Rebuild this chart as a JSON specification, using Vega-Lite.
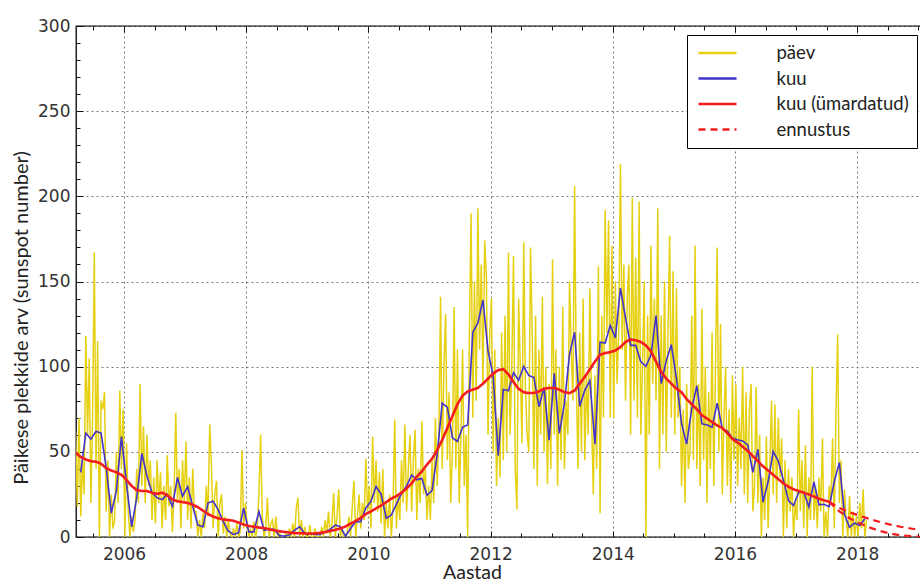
{
  "$schema": "https://vega.github.io/schema/vega-lite/v6.json",
  "width": 846,
  "height": 511,
  "autosize": {"type": "none"},
  "padding": {"left": 76, "top": 26, "right": 0, "bottom": 46},
  "background": "white",
  "config": {
    "view": {"stroke": "black", "strokeWidth": 1.3},
    "axis": {
      "labelFont": "DejaVu Sans",
      "labelFontSize": 17,
      "labelColor": "#333",
      "tickColor": "#111",
      "tickWidth": 1,
      "domain": false,
      "gridColor": "#7a7a7a",
      "gridDash": [2, 3],
      "gridWidth": 1,
      "titleFont": "Lato",
      "titleFontSize": 19,
      "titleFontWeight": "normal",
      "titleColor": "#222"
    },
    "legend": {
      "symbolType": "M-2,0H2",
      "symbolSize": 361,
      "symbolOffset": 11.5,
      "symbolStrokeWidth": 2.5,
      "labelFont": "Lato",
      "labelFontSize": 18.5,
      "labelColor": "#222",
      "labelOffset": 48,
      "clipHeight": 20,
      "rowPadding": 5.5,
      "padding": 8,
      "strokeColor": "black",
      "fillColor": "white"
    }
  },
  "resolve": {"axis": {"x": "independent", "y": "independent"}},
  "layer": [
    {
      "data": {"values": [
        {"year":2005.181,"ssn":30},{"year":2005.208,"ssn":62},{"year":2005.236,"ssn":18},
        {"year":2005.264,"ssn":70},{"year":2005.292,"ssn":12},{"year":2005.319,"ssn":45},
        {"year":2005.347,"ssn":25},{"year":2005.375,"ssn":118},{"year":2005.403,"ssn":60},
        {"year":2005.431,"ssn":105},{"year":2005.458,"ssn":20},{"year":2005.486,"ssn":70},
        {"year":2005.514,"ssn":167},{"year":2005.542,"ssn":40},{"year":2005.569,"ssn":115},
        {"year":2005.597,"ssn":0},{"year":2005.625,"ssn":80},{"year":2005.653,"ssn":75},
        {"year":2005.681,"ssn":85},{"year":2005.708,"ssn":15},{"year":2005.736,"ssn":45},
        {"year":2005.764,"ssn":0},{"year":2005.792,"ssn":25},{"year":2005.819,"ssn":5},
        {"year":2005.847,"ssn":10},{"year":2005.875,"ssn":50},{"year":2005.903,"ssn":20},
        {"year":2005.931,"ssn":86},{"year":2005.958,"ssn":40},{"year":2005.986,"ssn":75},
        {"year":2006.014,"ssn":0},{"year":2006.042,"ssn":55},{"year":2006.069,"ssn":15},
        {"year":2006.097,"ssn":0},{"year":2006.125,"ssn":12},{"year":2006.153,"ssn":3},
        {"year":2006.181,"ssn":10},{"year":2006.208,"ssn":40},{"year":2006.236,"ssn":20},
        {"year":2006.264,"ssn":90},{"year":2006.292,"ssn":30},{"year":2006.319,"ssn":65},
        {"year":2006.347,"ssn":20},{"year":2006.375,"ssn":60},{"year":2006.403,"ssn":30},
        {"year":2006.431,"ssn":45},{"year":2006.458,"ssn":10},{"year":2006.486,"ssn":35},
        {"year":2006.514,"ssn":8},{"year":2006.542,"ssn":45},{"year":2006.569,"ssn":20},
        {"year":2006.597,"ssn":38},{"year":2006.625,"ssn":5},{"year":2006.653,"ssn":30},
        {"year":2006.681,"ssn":10},{"year":2006.708,"ssn":48},{"year":2006.736,"ssn":18},
        {"year":2006.764,"ssn":30},{"year":2006.792,"ssn":3},{"year":2006.819,"ssn":25},
        {"year":2006.847,"ssn":73},{"year":2006.875,"ssn":20},{"year":2006.903,"ssn":40},
        {"year":2006.931,"ssn":5},{"year":2006.958,"ssn":45},{"year":2006.986,"ssn":20},
        {"year":2007.014,"ssn":56},{"year":2007.042,"ssn":10},{"year":2007.069,"ssn":35},
        {"year":2007.097,"ssn":5},{"year":2007.125,"ssn":40},{"year":2007.153,"ssn":15},
        {"year":2007.181,"ssn":15},{"year":2007.208,"ssn":0},{"year":2007.236,"ssn":10},
        {"year":2007.264,"ssn":0},{"year":2007.292,"ssn":14},{"year":2007.319,"ssn":5},
        {"year":2007.347,"ssn":30},{"year":2007.375,"ssn":12},{"year":2007.403,"ssn":66},
        {"year":2007.431,"ssn":42},{"year":2007.458,"ssn":5},{"year":2007.486,"ssn":25},
        {"year":2007.514,"ssn":33},{"year":2007.542,"ssn":0},{"year":2007.569,"ssn":20},
        {"year":2007.597,"ssn":25},{"year":2007.625,"ssn":2},{"year":2007.653,"ssn":12},
        {"year":2007.681,"ssn":0},{"year":2007.708,"ssn":10},{"year":2007.736,"ssn":2},
        {"year":2007.764,"ssn":0},{"year":2007.792,"ssn":5},{"year":2007.819,"ssn":0},
        {"year":2007.847,"ssn":8},{"year":2007.875,"ssn":0},{"year":2007.903,"ssn":3},
        {"year":2007.931,"ssn":51},{"year":2007.958,"ssn":5},{"year":2007.986,"ssn":20},
        {"year":2008.014,"ssn":8},{"year":2008.042,"ssn":0},{"year":2008.069,"ssn":5},
        {"year":2008.097,"ssn":0},{"year":2008.125,"ssn":9},{"year":2008.153,"ssn":0},
        {"year":2008.181,"ssn":5},{"year":2008.208,"ssn":25},{"year":2008.236,"ssn":60},
        {"year":2008.264,"ssn":12},{"year":2008.292,"ssn":0},{"year":2008.319,"ssn":5},
        {"year":2008.347,"ssn":23},{"year":2008.375,"ssn":0},{"year":2008.403,"ssn":8},
        {"year":2008.431,"ssn":10},{"year":2008.458,"ssn":0},{"year":2008.486,"ssn":12},
        {"year":2008.514,"ssn":0},{"year":2008.542,"ssn":3},{"year":2008.569,"ssn":0},
        {"year":2008.597,"ssn":0},{"year":2008.625,"ssn":0},{"year":2008.653,"ssn":2},
        {"year":2008.681,"ssn":0},{"year":2008.708,"ssn":5},{"year":2008.736,"ssn":0},
        {"year":2008.764,"ssn":8},{"year":2008.792,"ssn":0},{"year":2008.819,"ssn":17},
        {"year":2008.847,"ssn":23},{"year":2008.875,"ssn":0},{"year":2008.903,"ssn":10},
        {"year":2008.931,"ssn":0},{"year":2008.958,"ssn":6},{"year":2008.986,"ssn":0},
        {"year":2009.014,"ssn":0},{"year":2009.042,"ssn":7},{"year":2009.069,"ssn":0},
        {"year":2009.097,"ssn":0},{"year":2009.125,"ssn":5},{"year":2009.153,"ssn":0},
        {"year":2009.181,"ssn":0},{"year":2009.208,"ssn":0},{"year":2009.236,"ssn":6},
        {"year":2009.264,"ssn":0},{"year":2009.292,"ssn":10},{"year":2009.319,"ssn":2},
        {"year":2009.347,"ssn":15},{"year":2009.375,"ssn":0},{"year":2009.403,"ssn":8},
        {"year":2009.431,"ssn":26},{"year":2009.458,"ssn":0},{"year":2009.486,"ssn":12},
        {"year":2009.514,"ssn":28},{"year":2009.542,"ssn":0},{"year":2009.569,"ssn":5},
        {"year":2009.597,"ssn":0},{"year":2009.625,"ssn":0},{"year":2009.653,"ssn":3},
        {"year":2009.681,"ssn":12},{"year":2009.708,"ssn":0},{"year":2009.736,"ssn":18},
        {"year":2009.764,"ssn":33},{"year":2009.792,"ssn":0},{"year":2009.819,"ssn":12},
        {"year":2009.847,"ssn":25},{"year":2009.875,"ssn":5},{"year":2009.903,"ssn":20},
        {"year":2009.931,"ssn":10},{"year":2009.958,"ssn":46},{"year":2009.986,"ssn":15},
        {"year":2010.014,"ssn":30},{"year":2010.042,"ssn":5},{"year":2010.069,"ssn":59},
        {"year":2010.097,"ssn":20},{"year":2010.125,"ssn":45},{"year":2010.153,"ssn":15},
        {"year":2010.181,"ssn":38},{"year":2010.208,"ssn":8},{"year":2010.236,"ssn":40},
        {"year":2010.264,"ssn":0},{"year":2010.292,"ssn":20},{"year":2010.319,"ssn":5},
        {"year":2010.347,"ssn":25},{"year":2010.375,"ssn":0},{"year":2010.403,"ssn":18},
        {"year":2010.431,"ssn":69},{"year":2010.458,"ssn":5},{"year":2010.486,"ssn":25},
        {"year":2010.514,"ssn":10},{"year":2010.542,"ssn":45},{"year":2010.569,"ssn":20},
        {"year":2010.597,"ssn":66},{"year":2010.625,"ssn":15},{"year":2010.653,"ssn":40},
        {"year":2010.681,"ssn":60},{"year":2010.708,"ssn":15},{"year":2010.736,"ssn":45},
        {"year":2010.764,"ssn":63},{"year":2010.792,"ssn":10},{"year":2010.819,"ssn":40},
        {"year":2010.847,"ssn":20},{"year":2010.875,"ssn":68},{"year":2010.903,"ssn":25},
        {"year":2010.931,"ssn":40},{"year":2010.958,"ssn":10},{"year":2010.986,"ssn":30},
        {"year":2011.014,"ssn":10},{"year":2011.042,"ssn":45},{"year":2011.069,"ssn":20},
        {"year":2011.097,"ssn":70},{"year":2011.125,"ssn":30},{"year":2011.153,"ssn":60},
        {"year":2011.181,"ssn":141},{"year":2011.208,"ssn":40},{"year":2011.236,"ssn":100},
        {"year":2011.264,"ssn":131},{"year":2011.292,"ssn":45},{"year":2011.319,"ssn":85},
        {"year":2011.347,"ssn":20},{"year":2011.375,"ssn":50},{"year":2011.403,"ssn":135},
        {"year":2011.431,"ssn":40},{"year":2011.458,"ssn":110},{"year":2011.486,"ssn":20},
        {"year":2011.514,"ssn":60},{"year":2011.542,"ssn":110},{"year":2011.569,"ssn":30},
        {"year":2011.597,"ssn":60},{"year":2011.625,"ssn":0},{"year":2011.653,"ssn":120},
        {"year":2011.681,"ssn":190},{"year":2011.708,"ssn":70},{"year":2011.736,"ssn":150},
        {"year":2011.764,"ssn":80},{"year":2011.792,"ssn":193},{"year":2011.819,"ssn":110},
        {"year":2011.847,"ssn":160},{"year":2011.875,"ssn":90},{"year":2011.903,"ssn":174},
        {"year":2011.931,"ssn":153},{"year":2011.958,"ssn":60},{"year":2011.986,"ssn":120},
        {"year":2012.014,"ssn":140},{"year":2012.042,"ssn":50},{"year":2012.069,"ssn":110},
        {"year":2012.097,"ssn":30},{"year":2012.125,"ssn":70},{"year":2012.153,"ssn":35},
        {"year":2012.181,"ssn":120},{"year":2012.208,"ssn":45},{"year":2012.236,"ssn":130},
        {"year":2012.264,"ssn":50},{"year":2012.292,"ssn":167},{"year":2012.319,"ssn":60},
        {"year":2012.347,"ssn":100},{"year":2012.375,"ssn":165},{"year":2012.403,"ssn":40},
        {"year":2012.431,"ssn":16},{"year":2012.458,"ssn":140},{"year":2012.486,"ssn":100},
        {"year":2012.514,"ssn":55},{"year":2012.542,"ssn":173},{"year":2012.569,"ssn":90},
        {"year":2012.597,"ssn":60},{"year":2012.625,"ssn":50},{"year":2012.653,"ssn":170},
        {"year":2012.681,"ssn":120},{"year":2012.708,"ssn":40},{"year":2012.736,"ssn":130},
        {"year":2012.764,"ssn":30},{"year":2012.792,"ssn":110},{"year":2012.819,"ssn":60},
        {"year":2012.847,"ssn":141},{"year":2012.875,"ssn":50},{"year":2012.903,"ssn":100},
        {"year":2012.931,"ssn":31},{"year":2012.958,"ssn":90},{"year":2012.986,"ssn":40},
        {"year":2013.014,"ssn":163},{"year":2013.042,"ssn":60},{"year":2013.069,"ssn":110},
        {"year":2013.097,"ssn":30},{"year":2013.125,"ssn":100},{"year":2013.153,"ssn":45},
        {"year":2013.181,"ssn":135},{"year":2013.208,"ssn":40},{"year":2013.236,"ssn":80},
        {"year":2013.264,"ssn":60},{"year":2013.292,"ssn":150},{"year":2013.319,"ssn":110},
        {"year":2013.347,"ssn":80},{"year":2013.375,"ssn":206},{"year":2013.403,"ssn":90},
        {"year":2013.431,"ssn":40},{"year":2013.458,"ssn":120},{"year":2013.486,"ssn":50},
        {"year":2013.514,"ssn":140},{"year":2013.542,"ssn":45},{"year":2013.569,"ssn":95},
        {"year":2013.597,"ssn":60},{"year":2013.625,"ssn":146},{"year":2013.653,"ssn":70},
        {"year":2013.681,"ssn":25},{"year":2013.708,"ssn":95},{"year":2013.736,"ssn":40},
        {"year":2013.764,"ssn":159},{"year":2013.792,"ssn":14},{"year":2013.819,"ssn":130},
        {"year":2013.847,"ssn":70},{"year":2013.875,"ssn":192},{"year":2013.903,"ssn":120},
        {"year":2013.931,"ssn":186},{"year":2013.958,"ssn":70},{"year":2013.986,"ssn":171},
        {"year":2014.014,"ssn":70},{"year":2014.042,"ssn":150},{"year":2014.069,"ssn":90},
        {"year":2014.097,"ssn":120},{"year":2014.125,"ssn":219},{"year":2014.153,"ssn":110},
        {"year":2014.181,"ssn":160},{"year":2014.208,"ssn":80},{"year":2014.236,"ssn":140},
        {"year":2014.264,"ssn":160},{"year":2014.292,"ssn":60},{"year":2014.319,"ssn":199},
        {"year":2014.347,"ssn":80},{"year":2014.375,"ssn":164},{"year":2014.403,"ssn":70},
        {"year":2014.431,"ssn":197},{"year":2014.458,"ssn":60},{"year":2014.486,"ssn":100},
        {"year":2014.514,"ssn":150},{"year":2014.542,"ssn":0},{"year":2014.569,"ssn":130},
        {"year":2014.597,"ssn":60},{"year":2014.625,"ssn":171},{"year":2014.653,"ssn":90},
        {"year":2014.681,"ssn":140},{"year":2014.708,"ssn":80},{"year":2014.736,"ssn":193},
        {"year":2014.764,"ssn":40},{"year":2014.792,"ssn":130},{"year":2014.819,"ssn":60},
        {"year":2014.847,"ssn":150},{"year":2014.875,"ssn":50},{"year":2014.903,"ssn":120},
        {"year":2014.931,"ssn":177},{"year":2014.958,"ssn":70},{"year":2014.986,"ssn":156},
        {"year":2015.014,"ssn":60},{"year":2015.042,"ssn":146},{"year":2015.069,"ssn":70},
        {"year":2015.097,"ssn":100},{"year":2015.125,"ssn":30},{"year":2015.153,"ssn":75},
        {"year":2015.181,"ssn":20},{"year":2015.208,"ssn":90},{"year":2015.236,"ssn":40},
        {"year":2015.264,"ssn":50},{"year":2015.292,"ssn":130},{"year":2015.319,"ssn":45},
        {"year":2015.347,"ssn":171},{"year":2015.375,"ssn":40},{"year":2015.403,"ssn":90},
        {"year":2015.431,"ssn":30},{"year":2015.458,"ssn":134},{"year":2015.486,"ssn":45},
        {"year":2015.514,"ssn":100},{"year":2015.542,"ssn":20},{"year":2015.569,"ssn":85},
        {"year":2015.597,"ssn":40},{"year":2015.625,"ssn":120},{"year":2015.653,"ssn":30},
        {"year":2015.681,"ssn":100},{"year":2015.708,"ssn":170},{"year":2015.736,"ssn":50},
        {"year":2015.764,"ssn":125},{"year":2015.792,"ssn":25},{"year":2015.819,"ssn":70},
        {"year":2015.847,"ssn":100},{"year":2015.875,"ssn":30},{"year":2015.903,"ssn":75},
        {"year":2015.931,"ssn":20},{"year":2015.958,"ssn":95},{"year":2015.986,"ssn":45},
        {"year":2016.014,"ssn":90},{"year":2016.042,"ssn":30},{"year":2016.069,"ssn":70},
        {"year":2016.097,"ssn":40},{"year":2016.125,"ssn":100},{"year":2016.153,"ssn":25},
        {"year":2016.181,"ssn":85},{"year":2016.208,"ssn":20},{"year":2016.236,"ssn":75},
        {"year":2016.264,"ssn":90},{"year":2016.292,"ssn":15},{"year":2016.319,"ssn":30},
        {"year":2016.347,"ssn":88},{"year":2016.375,"ssn":20},{"year":2016.403,"ssn":60},
        {"year":2016.431,"ssn":0},{"year":2016.458,"ssn":35},{"year":2016.486,"ssn":10},
        {"year":2016.514,"ssn":59},{"year":2016.542,"ssn":5},{"year":2016.569,"ssn":40},
        {"year":2016.597,"ssn":80},{"year":2016.625,"ssn":25},{"year":2016.653,"ssn":78},
        {"year":2016.681,"ssn":20},{"year":2016.708,"ssn":70},{"year":2016.736,"ssn":35},
        {"year":2016.764,"ssn":58},{"year":2016.792,"ssn":0},{"year":2016.819,"ssn":45},
        {"year":2016.847,"ssn":5},{"year":2016.875,"ssn":40},{"year":2016.903,"ssn":15},
        {"year":2016.931,"ssn":35},{"year":2016.958,"ssn":0},{"year":2016.986,"ssn":20},
        {"year":2017.014,"ssn":10},{"year":2017.042,"ssn":75},{"year":2017.069,"ssn":15},
        {"year":2017.097,"ssn":45},{"year":2017.125,"ssn":5},{"year":2017.153,"ssn":54},
        {"year":2017.181,"ssn":0},{"year":2017.208,"ssn":35},{"year":2017.236,"ssn":10},
        {"year":2017.264,"ssn":100},{"year":2017.292,"ssn":10},{"year":2017.319,"ssn":30},
        {"year":2017.347,"ssn":5},{"year":2017.375,"ssn":35},{"year":2017.403,"ssn":15},
        {"year":2017.431,"ssn":58},{"year":2017.458,"ssn":0},{"year":2017.486,"ssn":15},
        {"year":2017.514,"ssn":0},{"year":2017.542,"ssn":30},{"year":2017.569,"ssn":20},
        {"year":2017.597,"ssn":58},{"year":2017.625,"ssn":5},{"year":2017.653,"ssn":75},
        {"year":2017.681,"ssn":119},{"year":2017.708,"ssn":20},{"year":2017.736,"ssn":45},
        {"year":2017.764,"ssn":0},{"year":2017.792,"ssn":28},{"year":2017.819,"ssn":10},
        {"year":2017.847,"ssn":0},{"year":2017.875,"ssn":24},{"year":2017.903,"ssn":0},
        {"year":2017.931,"ssn":15},{"year":2017.958,"ssn":0},{"year":2017.986,"ssn":12},
        {"year":2018.014,"ssn":0},{"year":2018.042,"ssn":20},{"year":2018.069,"ssn":5},
        {"year":2018.097,"ssn":28},{"year":2018.125,"ssn":0},{"year":2018.153,"ssn":10}
      ]},
      "mark": {"type": "line", "strokeWidth": 1.5, "clip": true},
      "encoding": {
        "x": {
          "field": "year", "type": "quantitative",
          "scale": {"domain": [2005.2144, 2019.0606], "nice": false, "zero": false},
          "axis": {
            "orient": "bottom", "values": [2006, 2008, 2010, 2012, 2014, 2016, 2018],
            "format": "d", "grid": true, "tickSize": -6, "labelPadding": 15,
            "title": "Aastad", "titleFontSize": 19.5, "titleX": 396, "titleY": 41,
            "titleAlign": "center", "titleBaseline": "alphabetic"
          }
        },
        "y": {
          "field": "ssn", "type": "quantitative",
          "scale": {"domain": [0, 300], "nice": false, "zero": true},
          "axis": {
            "orient": "left", "values": [0, 50, 100, 150, 200, 250, 300],
            "grid": true, "tickSize": -7, "labelPadding": 13,
            "title": "Päikese plekkide arv (sunspot number)", "titleFontSize": 20,
            "titleX": -49, "titleY": 291.5, "titleAngle": -90, "titleAlign": "center",
            "titleBaseline": "alphabetic"
          }
        },
        "color": {
          "datum": "päev", "type": "nominal",
          "scale": {
            "domain": ["päev", "kuu", "kuu (ümardatud)", "ennustus"],
            "range": ["#e6d012", "#4233cc", "#f41c1c", "#f41c1c"]
          },
          "legend": {"orient": "none", "legendX": 611, "legendY": 9, "title": null}
        },
        "strokeDash": {
          "datum": "päev", "type": "nominal",
          "scale": {
            "domain": ["päev", "kuu", "kuu (ümardatud)", "ennustus"],
            "range": [[1, 0], [1, 0], [1, 0], [7, 5]]
          },
          "legend": {"orient": "none", "legendX": 611, "legendY": 9, "title": null}
        }
      }
    },
    {
      "data": {"values": [
        {"year":2005.292,"ssn":38},{"year":2005.375,"ssn":61},{"year":2005.458,"ssn":57.5},
        {"year":2005.542,"ssn":62},{"year":2005.625,"ssn":61},{"year":2005.708,"ssn":41},
        {"year":2005.792,"ssn":14},{"year":2005.875,"ssn":27},{"year":2005.958,"ssn":59},
        {"year":2006.042,"ssn":31},{"year":2006.125,"ssn":6},{"year":2006.208,"ssn":23},
        {"year":2006.292,"ssn":49},{"year":2006.375,"ssn":36},{"year":2006.458,"ssn":26},
        {"year":2006.542,"ssn":23},{"year":2006.625,"ssn":22},{"year":2006.708,"ssn":25},
        {"year":2006.792,"ssn":18},{"year":2006.875,"ssn":35},{"year":2006.958,"ssn":24},
        {"year":2007.042,"ssn":29.5},{"year":2007.125,"ssn":18},{"year":2007.208,"ssn":7},
        {"year":2007.292,"ssn":6},{"year":2007.375,"ssn":20},{"year":2007.458,"ssn":21},
        {"year":2007.542,"ssn":16},{"year":2007.625,"ssn":9},{"year":2007.708,"ssn":3.5},
        {"year":2007.792,"ssn":1.5},{"year":2007.875,"ssn":2.5},{"year":2007.958,"ssn":17},
        {"year":2008.042,"ssn":3},{"year":2008.125,"ssn":3},{"year":2008.208,"ssn":15},
        {"year":2008.292,"ssn":4},{"year":2008.375,"ssn":4.5},{"year":2008.458,"ssn":4.5},
        {"year":2008.542,"ssn":0.8},{"year":2008.625,"ssn":0.5},{"year":2008.708,"ssn":1.2},
        {"year":2008.792,"ssn":4},{"year":2008.875,"ssn":6},{"year":2008.958,"ssn":2},
        {"year":2009.042,"ssn":2},{"year":2009.125,"ssn":1.5},{"year":2009.208,"ssn":1.5},
        {"year":2009.292,"ssn":3},{"year":2009.375,"ssn":4.5},{"year":2009.458,"ssn":7},
        {"year":2009.542,"ssn":6},{"year":2009.625,"ssn":0.5},{"year":2009.708,"ssn":5},
        {"year":2009.792,"ssn":9},{"year":2009.875,"ssn":9},{"year":2009.958,"ssn":17},
        {"year":2010.042,"ssn":21},{"year":2010.125,"ssn":29.6},{"year":2010.208,"ssn":25.2},
        {"year":2010.292,"ssn":11},{"year":2010.375,"ssn":12.9},{"year":2010.458,"ssn":19.3},
        {"year":2010.542,"ssn":25.6},{"year":2010.625,"ssn":29.9},{"year":2010.708,"ssn":36.4},
        {"year":2010.792,"ssn":33.6},{"year":2010.875,"ssn":34.4},{"year":2010.958,"ssn":24.5},
        {"year":2011.042,"ssn":27.3},{"year":2011.125,"ssn":48.3},{"year":2011.208,"ssn":78.6},
        {"year":2011.292,"ssn":76.1},{"year":2011.375,"ssn":58.2},{"year":2011.458,"ssn":56.1},
        {"year":2011.542,"ssn":64.5},{"year":2011.625,"ssn":65.8},{"year":2011.708,"ssn":120.1},
        {"year":2011.792,"ssn":125.7},{"year":2011.875,"ssn":139.1},{"year":2011.958,"ssn":109.3},
        {"year":2012.042,"ssn":94.4},{"year":2012.125,"ssn":47.8},{"year":2012.208,"ssn":86.6},
        {"year":2012.292,"ssn":85.9},{"year":2012.375,"ssn":96.5},{"year":2012.458,"ssn":92.0},
        {"year":2012.542,"ssn":100.1},{"year":2012.625,"ssn":94.8},{"year":2012.708,"ssn":93.7},
        {"year":2012.792,"ssn":76.5},{"year":2012.875,"ssn":87.6},{"year":2012.958,"ssn":56.8},
        {"year":2013.042,"ssn":96.1},{"year":2013.125,"ssn":60.9},{"year":2013.208,"ssn":78.3},
        {"year":2013.292,"ssn":107.3},{"year":2013.375,"ssn":120.2},{"year":2013.458,"ssn":76.7},
        {"year":2013.542,"ssn":86.2},{"year":2013.625,"ssn":91.8},{"year":2013.708,"ssn":54.5},
        {"year":2013.792,"ssn":114.4},{"year":2013.875,"ssn":113.9},{"year":2013.958,"ssn":124.2},
        {"year":2014.042,"ssn":117.0},{"year":2014.125,"ssn":146.1},{"year":2014.208,"ssn":128.7},
        {"year":2014.292,"ssn":112.5},{"year":2014.375,"ssn":112.5},{"year":2014.458,"ssn":102.9},
        {"year":2014.542,"ssn":100.2},{"year":2014.625,"ssn":106.9},{"year":2014.708,"ssn":130.0},
        {"year":2014.792,"ssn":90.0},{"year":2014.875,"ssn":103.6},{"year":2014.958,"ssn":112.9},
        {"year":2015.042,"ssn":93.0},{"year":2015.125,"ssn":66.7},{"year":2015.208,"ssn":54.5},
        {"year":2015.292,"ssn":75.3},{"year":2015.375,"ssn":88.8},{"year":2015.458,"ssn":66.5},
        {"year":2015.542,"ssn":65.8},{"year":2015.625,"ssn":64.4},{"year":2015.708,"ssn":78.6},
        {"year":2015.792,"ssn":63.6},{"year":2015.875,"ssn":62.2},{"year":2015.958,"ssn":58.0},
        {"year":2016.042,"ssn":57.0},{"year":2016.125,"ssn":56.4},{"year":2016.208,"ssn":54.1},
        {"year":2016.292,"ssn":37.9},{"year":2016.375,"ssn":51.5},{"year":2016.458,"ssn":20.5},
        {"year":2016.542,"ssn":32.4},{"year":2016.625,"ssn":50.2},{"year":2016.708,"ssn":44.6},
        {"year":2016.792,"ssn":33.4},{"year":2016.875,"ssn":21.4},{"year":2016.958,"ssn":18.5},
        {"year":2017.042,"ssn":26.1},{"year":2017.125,"ssn":26.4},{"year":2017.208,"ssn":17.7},
        {"year":2017.292,"ssn":32.3},{"year":2017.375,"ssn":18.9},{"year":2017.458,"ssn":19.2},
        {"year":2017.542,"ssn":17.8},{"year":2017.625,"ssn":32.6},{"year":2017.708,"ssn":43.7},
        {"year":2017.792,"ssn":13.2},{"year":2017.875,"ssn":5.7},{"year":2017.958,"ssn":8.2},
        {"year":2018.042,"ssn":6.8},{"year":2018.125,"ssn":10.7}
      ]},
      "mark": {"type": "line", "strokeWidth": 1.6, "clip": true},
      "encoding": {
        "x": {
          "field": "year", "type": "quantitative",
          "axis": {
            "orient": "bottom",
            "values": [2005.5, 2006.5, 2007, 2007.5, 2008.5, 2009, 2009.5, 2010.5, 2011, 2011.5, 2012.5, 2013, 2013.5, 2014.5, 2015, 2015.5, 2016.5, 2017, 2017.5, 2018.5, 2019],
            "labels": false, "grid": false, "tickSize": -4, "title": null
          }
        },
        "y": {
          "field": "ssn", "type": "quantitative",
          "axis": {
            "orient": "left",
            "values": [10, 20, 30, 40, 60, 70, 80, 90, 110, 120, 130, 140, 160, 170, 180, 190, 210, 220, 230, 240, 260, 270, 280, 290],
            "labels": false, "grid": false, "tickSize": -4, "title": null
          }
        },
        "color": {"datum": "kuu", "type": "nominal"},
        "strokeDash": {"datum": "kuu", "type": "nominal"}
      }
    },
    {
      "data": {"values": [
        {"year":2005.208,"ssn":49.5},{"year":2005.292,"ssn":47},{"year":2005.375,"ssn":45.5},
        {"year":2005.458,"ssn":44.5},{"year":2005.542,"ssn":44.2},{"year":2005.625,"ssn":43},
        {"year":2005.708,"ssn":40.5},{"year":2005.792,"ssn":39},{"year":2005.875,"ssn":38},
        {"year":2005.958,"ssn":36.5},{"year":2006.042,"ssn":33.5},{"year":2006.125,"ssn":30},
        {"year":2006.208,"ssn":27.5},{"year":2006.292,"ssn":27},{"year":2006.375,"ssn":27},
        {"year":2006.458,"ssn":26},{"year":2006.542,"ssn":25.3},{"year":2006.625,"ssn":26},
        {"year":2006.708,"ssn":24.5},{"year":2006.792,"ssn":22},{"year":2006.875,"ssn":21},
        {"year":2006.958,"ssn":20.5},{"year":2007.042,"ssn":20},{"year":2007.125,"ssn":19},
        {"year":2007.208,"ssn":17.5},{"year":2007.292,"ssn":15.5},{"year":2007.375,"ssn":13.5},
        {"year":2007.458,"ssn":12},{"year":2007.542,"ssn":11},{"year":2007.625,"ssn":10.3},
        {"year":2007.708,"ssn":10},{"year":2007.792,"ssn":9.5},{"year":2007.875,"ssn":8.5},
        {"year":2007.958,"ssn":7.3},{"year":2008.042,"ssn":6.5},{"year":2008.125,"ssn":6},
        {"year":2008.208,"ssn":5.6},{"year":2008.292,"ssn":5.2},{"year":2008.375,"ssn":4.5},
        {"year":2008.458,"ssn":3.9},{"year":2008.542,"ssn":3.4},{"year":2008.625,"ssn":3},
        {"year":2008.708,"ssn":2.6},{"year":2008.792,"ssn":2.3},{"year":2008.875,"ssn":2.2},
        {"year":2008.958,"ssn":2.1},{"year":2009.042,"ssn":2},{"year":2009.125,"ssn":2.1},
        {"year":2009.208,"ssn":2.4},{"year":2009.292,"ssn":2.9},{"year":2009.375,"ssn":3.5},
        {"year":2009.458,"ssn":4.2},{"year":2009.542,"ssn":5},{"year":2009.625,"ssn":6.2},
        {"year":2009.708,"ssn":7.8},{"year":2009.792,"ssn":9.5},{"year":2009.875,"ssn":11.2},
        {"year":2009.958,"ssn":13.5},{"year":2010.042,"ssn":15},{"year":2010.125,"ssn":16.8},
        {"year":2010.208,"ssn":18.5},{"year":2010.292,"ssn":20.5},{"year":2010.375,"ssn":22.5},
        {"year":2010.458,"ssn":24},{"year":2010.542,"ssn":26},{"year":2010.625,"ssn":28.5},
        {"year":2010.708,"ssn":31.5},{"year":2010.792,"ssn":35.4},{"year":2010.875,"ssn":38.5},
        {"year":2010.958,"ssn":42.5},{"year":2011.042,"ssn":46},{"year":2011.125,"ssn":51},
        {"year":2011.208,"ssn":57},{"year":2011.292,"ssn":64},{"year":2011.375,"ssn":71},
        {"year":2011.458,"ssn":78},{"year":2011.542,"ssn":83},{"year":2011.625,"ssn":85.5},
        {"year":2011.708,"ssn":86.5},{"year":2011.792,"ssn":87.5},{"year":2011.875,"ssn":90},
        {"year":2011.958,"ssn":93},{"year":2012.042,"ssn":96},{"year":2012.125,"ssn":98},
        {"year":2012.208,"ssn":98.5},{"year":2012.292,"ssn":95.5},{"year":2012.375,"ssn":91},
        {"year":2012.458,"ssn":87},{"year":2012.542,"ssn":85},{"year":2012.625,"ssn":84.5},
        {"year":2012.708,"ssn":84.5},{"year":2012.792,"ssn":85.5},{"year":2012.875,"ssn":87},
        {"year":2012.958,"ssn":87.5},{"year":2013.042,"ssn":87.5},{"year":2013.125,"ssn":86.5},
        {"year":2013.208,"ssn":85},{"year":2013.292,"ssn":84.5},{"year":2013.375,"ssn":86},
        {"year":2013.458,"ssn":90},{"year":2013.542,"ssn":94},{"year":2013.625,"ssn":98.5},
        {"year":2013.708,"ssn":103},{"year":2013.792,"ssn":107},{"year":2013.875,"ssn":108},
        {"year":2013.958,"ssn":108.5},{"year":2014.042,"ssn":109.5},{"year":2014.125,"ssn":111.5},
        {"year":2014.208,"ssn":114.5},{"year":2014.292,"ssn":116},{"year":2014.375,"ssn":115.5},
        {"year":2014.458,"ssn":114.5},{"year":2014.542,"ssn":112.5},{"year":2014.625,"ssn":109},
        {"year":2014.708,"ssn":103},{"year":2014.792,"ssn":97},{"year":2014.875,"ssn":93},
        {"year":2014.958,"ssn":90},{"year":2015.042,"ssn":87},{"year":2015.125,"ssn":85},
        {"year":2015.208,"ssn":81},{"year":2015.292,"ssn":78},{"year":2015.375,"ssn":75},
        {"year":2015.458,"ssn":71.5},{"year":2015.542,"ssn":69.5},{"year":2015.625,"ssn":67.5},
        {"year":2015.708,"ssn":65.5},{"year":2015.792,"ssn":64},{"year":2015.875,"ssn":61},
        {"year":2015.958,"ssn":57.5},{"year":2016.042,"ssn":55.5},{"year":2016.125,"ssn":53},
        {"year":2016.208,"ssn":50.5},{"year":2016.292,"ssn":47.5},{"year":2016.375,"ssn":44.5},
        {"year":2016.458,"ssn":41.5},{"year":2016.542,"ssn":39},{"year":2016.625,"ssn":36.5},
        {"year":2016.708,"ssn":34},{"year":2016.792,"ssn":31.5},{"year":2016.875,"ssn":29.5},
        {"year":2016.958,"ssn":28},{"year":2017.042,"ssn":27},{"year":2017.125,"ssn":26},
        {"year":2017.208,"ssn":25},{"year":2017.292,"ssn":23.7},{"year":2017.375,"ssn":22.5},
        {"year":2017.458,"ssn":21.5},{"year":2017.542,"ssn":20.7}
      ]},
      "mark": {"type": "line", "strokeWidth": 2.6, "clip": true},
      "encoding": {
        "x": {
          "field": "year", "type": "quantitative",
          "axis": {
            "orient": "top", "values": [2006, 2008, 2010, 2012, 2014, 2016, 2018],
            "labels": false, "grid": false, "tickSize": -6, "title": null
          }
        },
        "y": {"field": "ssn", "type": "quantitative", "axis": null},
        "color": {"datum": "kuu (ümardatud)", "type": "nominal"},
        "strokeDash": {"datum": "kuu (ümardatud)", "type": "nominal"}
      }
    },
    {
      "data": {"values": [
        {"year":2017.542,"ssn":20.7,"bound":"ülemine"},{"year":2017.708,"ssn":17,"bound":"ülemine"},
        {"year":2017.875,"ssn":14.5,"bound":"ülemine"},{"year":2018.042,"ssn":12.5,"bound":"ülemine"},
        {"year":2018.208,"ssn":10.5,"bound":"ülemine"},{"year":2018.375,"ssn":8.8,"bound":"ülemine"},
        {"year":2018.542,"ssn":7.3,"bound":"ülemine"},{"year":2018.708,"ssn":6,"bound":"ülemine"},
        {"year":2018.875,"ssn":5,"bound":"ülemine"},{"year":2019.042,"ssn":4,"bound":"ülemine"},
        {"year":2017.542,"ssn":20.7,"bound":"alumine"},{"year":2017.708,"ssn":15,"bound":"alumine"},
        {"year":2017.875,"ssn":11,"bound":"alumine"},{"year":2018.042,"ssn":8,"bound":"alumine"},
        {"year":2018.208,"ssn":5.5,"bound":"alumine"},{"year":2018.375,"ssn":3.5,"bound":"alumine"},
        {"year":2018.542,"ssn":2,"bound":"alumine"},{"year":2018.708,"ssn":1,"bound":"alumine"},
        {"year":2018.875,"ssn":0.5,"bound":"alumine"},{"year":2019.042,"ssn":0,"bound":"alumine"}
      ]},
      "mark": {"type": "line", "strokeWidth": 2.2, "clip": true},
      "encoding": {
        "x": {
          "field": "year", "type": "quantitative",
          "axis": {
            "orient": "top",
            "values": [2005.5, 2006.5, 2007, 2007.5, 2008.5, 2009, 2009.5, 2010.5, 2011, 2011.5, 2012.5, 2013, 2013.5, 2014.5, 2015, 2015.5, 2016.5, 2017, 2017.5, 2018.5, 2019],
            "labels": false, "grid": false, "tickSize": -4, "title": null
          }
        },
        "y": {"field": "ssn", "type": "quantitative", "axis": null},
        "detail": {"field": "bound", "type": "nominal"},
        "color": {"datum": "ennustus", "type": "nominal"},
        "strokeDash": {"datum": "ennustus", "type": "nominal"}
      }
    }
  ]
}
